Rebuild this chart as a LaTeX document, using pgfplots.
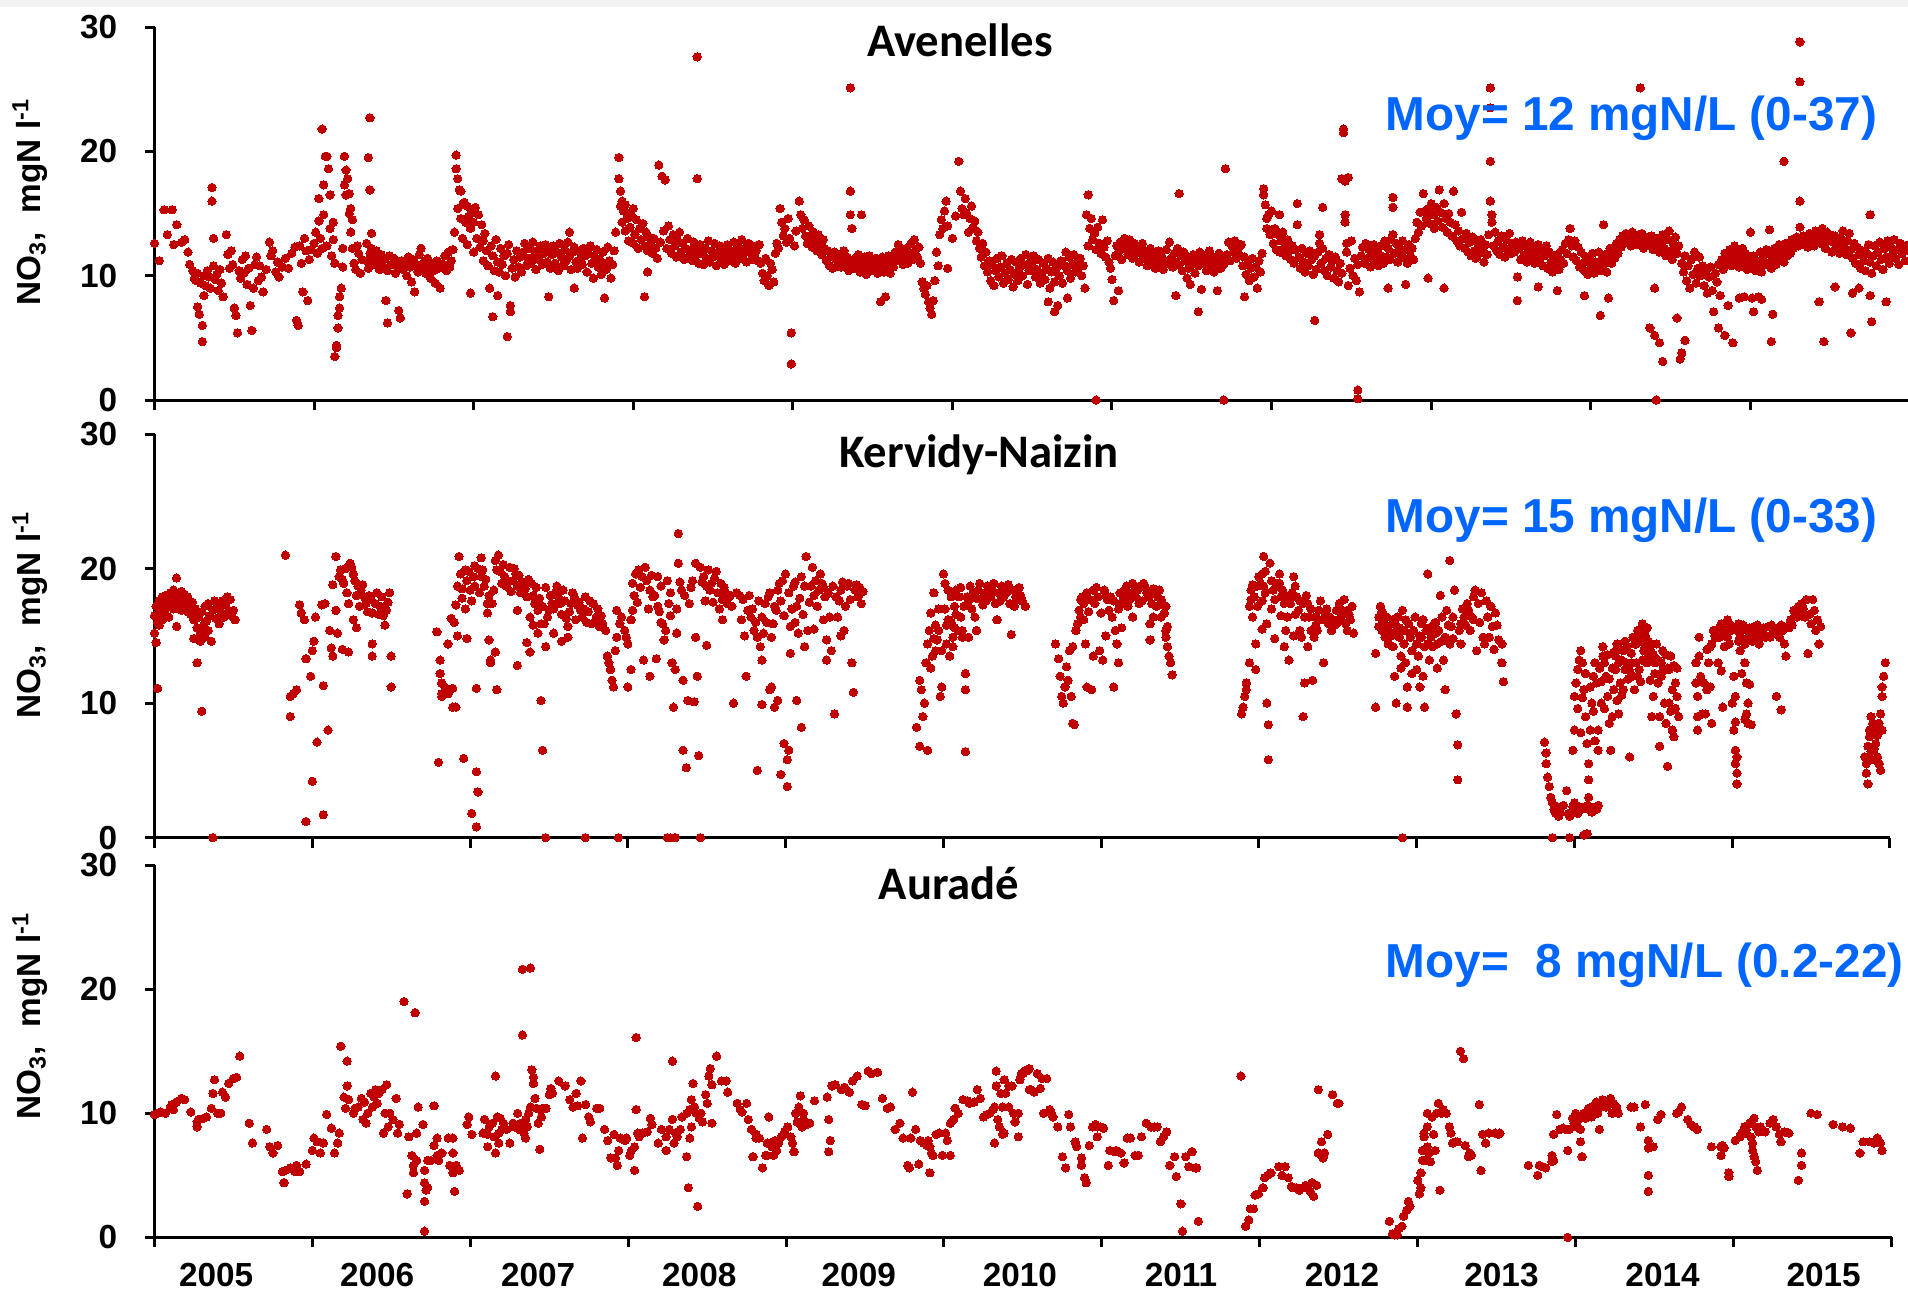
\documentclass[border=0pt]{standalone}
\usepackage{fontspec}
\setmainfont{Liberation Sans}
\newfontfamily\calibri{Carlito}
\usepackage{pgfplots}
\pgfplotsset{compat=1.18}
\definecolor{dotred}{RGB}{192,0,0}
\definecolor{moyblue}{RGB}{0,102,255}
\pgfplotsset{
  panel/.style={
    scale only axis,
    xmin=2005, xmax=2016, ymin=0, ymax=30,
    axis x line*=bottom, axis y line*=left,
    axis line style={line width=0.9pt, -},
    tick style={black, line width=0.9pt},
    tick align=outside,
    major tick length=3pt,
    ytick={0,10,20,30},
    xtick={2005,...,2016},
    xticklabels={},
    yticklabel style={font=\bfseries\fontsize{10}{12}\selectfont, inner sep=0pt, xshift=-8pt},
    /pgf/number format/assume math mode=true,
    clip=false,
  },
  dots/.style={only marks, mark=*, mark size=1.25pt, color=dotred,
    mark options={draw=dotred, fill=dotred, line width=0pt}},
}
\begin{document}
\begin{tikzpicture}
\useasboundingbox (0pt,0pt) rectangle (572.4pt,-388.2pt);
\fill[black!5] (0pt,0pt) rectangle (572.4pt,-2pt);
% ---------------- Panel 1 : Avenelles ----------------
\begin{axis}[panel, at={(46.35pt,-120pt)}, anchor=south west, width=526.65pt, height=111.9pt]
\addplot[dots] coordinates {
(2005.00,12.6)(2005.03,11.2)(2005.06,15.3)(2005.08,13.3)(2005.11,15.3)(2005.12,12.5)(2005.14,14.1)(2005.17,12.7)(2005.19,12.9)(2005.21,11.9)(2005.22,10.9)(2005.24,10.4)(2005.25,9.8)(2005.26,9.6)(2005.27,10.2)(2005.27,7.5)(2005.28,6.9)(2005.29,9.4)(2005.30,6.0)(2005.30,4.7)(2005.31,8.4)(2005.31,10.0)(2005.32,9.2)(2005.33,10.4)(2005.34,9.9)(2005.35,9.0)(2005.36,17.1)(2005.36,16.0)(2005.37,13.0)(2005.37,10.8)(2005.38,9.7)(2005.39,10.1)(2005.40,8.8)(2005.41,10.5)(2005.42,9.4)(2005.43,8.3)(2005.45,13.3)(2005.46,11.7)(2005.47,10.6)(2005.48,12.0)(2005.49,10.9)(2005.50,7.4)(2005.51,6.8)(2005.52,5.4)(2005.53,10.4)(2005.54,9.8)(2005.55,11.3)(2005.56,10.2)(2005.57,11.6)(2005.58,9.3)(2005.59,10.6)(2005.60,7.6)(2005.61,5.6)(2005.62,9.0)(2005.63,10.9)(2005.64,11.5)(2005.65,9.6)(2005.66,10.8)(2005.67,9.9)(2005.68,8.7)(2005.70,10.5)(2005.72,12.7)(2005.73,11.6)(2005.74,12.0)(2005.76,10.3)(2005.77,11.1)(2005.78,9.9)(2005.80,10.7)(2005.82,11.4)(2005.84,10.6)(2005.86,11.8)(2005.88,12.3)(2005.89,6.4)(2005.90,6.0)(2005.91,12.4)(2005.92,11.0)(2005.93,8.7)(2005.94,13.0)(2005.95,12.0)(2005.96,8.0)(2005.97,11.3)(2005.98,12.1)
(2006.00,12.6)(2006.01,13.5)(2006.02,11.8)(2006.03,14.4)(2006.03,16.2)(2006.04,13.0)(2006.05,12.2)(2006.06,17.3)(2006.06,14.9)(2006.05,21.8)(2006.07,19.6)(2006.08,19.6)(2006.08,12.4)(2006.09,18.6)(2006.10,16.5)(2006.10,13.8)(2006.11,11.6)(2006.12,14.3)(2006.12,12.9)(2006.13,11.0)(2006.13,3.5)(2006.14,4.2)(2006.14,4.4)(2006.15,5.8)(2006.15,6.8)(2006.16,7.4)(2006.16,8.3)(2006.17,9.0)(2006.18,10.7)(2006.18,12.2)(2006.19,19.6)(2006.19,17.3)(2006.20,16.5)(2006.20,18.5)(2006.21,17.8)(2006.22,15.0)(2006.22,16.6)(2006.23,13.5)(2006.23,15.4)(2006.24,12.2)(2006.24,14.5)(2006.25,11.0)(2006.26,10.5)(2006.27,12.4)(2006.28,11.8)(2006.29,10.2)(2006.30,11.3)(2006.35,22.7)(2006.34,19.5)(2006.35,16.9)(2006.36,13.4)(2006.33,12.6)(2006.33,11.2)(2006.34,10.6)(2006.35,11.8)(2006.36,12.2)(2006.37,10.9)(2006.38,11.5)(2006.39,12.0)(2006.40,11.1)(2006.41,10.5)(2006.42,11.7)(2006.43,10.8)(2006.44,11.3)(2006.45,8.0)(2006.46,6.2)(2006.46,10.4)(2006.47,11.6)(2006.48,10.9)(2006.50,11.4)(2006.51,10.2)(2006.52,10.8)(2006.53,7.2)(2006.54,6.6)(2006.55,11.2)(2006.56,10.5)(2006.57,11.0)(2006.58,10.0)(2006.59,11.5)(2006.60,10.7)(2006.61,9.5)(2006.62,11.3)(2006.63,8.7)(2006.64,10.9)(2006.65,10.3)(2006.66,11.7)(2006.67,12.2)(2006.68,10.6)(2006.69,11.1)(2006.70,10.2)(2006.71,11.4)(2006.72,10.8)(2006.73,9.8)(2006.74,11.0)(2006.75,10.4)(2006.76,9.4)(2006.77,11.2)(2006.78,10.6)(2006.79,9.0)(2006.81,10.9)(2006.82,11.6)(2006.83,10.4)(2006.84,11.9)(2006.85,10.7)
(2006.86,11.2)(2006.87,12.1)(2006.88,13.5)(2006.89,19.7)(2006.89,18.6)(2006.90,17.8)(2006.90,15.4)(2006.91,16.9)(2006.92,16.8)(2006.92,14.6)(2006.93,15.7)(2006.93,13.0)(2006.94,15.9)(2006.95,14.3)(2006.96,15.6)(2006.96,12.5)(2006.97,14.8)(2006.98,13.8)(2006.98,8.6)(2006.99,15.2)(2007.00,11.9)(2007.00,14.3)(2007.01,15.5)(2007.02,13.0)(2007.03,14.9)(2007.04,12.3)(2007.05,14.1)(2007.06,12.8)(2007.06,11.2)(2007.07,13.4)(2007.08,12.0)
(2007.09,10.8)(2007.10,9.0)(2007.11,12.4)(2007.12,6.7)(2007.12,11.6)(2007.13,10.4)(2007.14,12.9)(2007.15,8.4)(2007.15,11.1)(2007.16,10.3)(2007.17,12.2)(2007.18,10.9)(2007.19,11.6)(2007.20,10.0)(2007.21,5.1)(2007.21,11.8)(2007.22,12.5)(2007.23,7.6)(2007.23,7.1)(2007.24,10.6)(2007.25,11.3)(2007.26,9.9)(2007.27,12.0)(2007.28,10.7)(2007.29,11.5)(2007.30,10.3)
(2007.31,11.9)(2007.32,12.6)(2007.33,10.8)(2007.34,11.4)(2007.35,12.2)(2007.36,11.0)(2007.37,12.7)(2007.38,11.6)(2007.39,10.5)(2007.40,12.0)(2007.41,11.3)(2007.42,12.4)(2007.43,10.9)(2007.44,11.8)(2007.45,12.5)(2007.46,11.1)(2007.47,8.3)(2007.47,12.2)(2007.48,10.6)(2007.49,11.7)(2007.50,12.4)(2007.51,11.0)(2007.52,11.9)(2007.53,10.4)(2007.54,12.6)(2007.55,11.5)(2007.56,10.8)(2007.57,12.1)(2007.58,11.2)(2007.59,12.7)(2007.60,13.5)(2007.60,11.6)(2007.61,10.5)(2007.62,11.9)(2007.63,9.0)(2007.63,12.3)(2007.64,11.1)(2007.65,10.6)(2007.66,12.0)(2007.67,11.4)(2007.68,10.9)(2007.69,12.2)(2007.70,11.6)(2007.71,10.3)(2007.72,11.8)(2007.73,12.4)(2007.74,11.0)(2007.75,9.8)(2007.76,11.5)(2007.77,12.1)(2007.78,10.7)(2007.79,11.3)(2007.80,10.1)(2007.81,11.9)(2007.82,8.2)(2007.82,11.0)(2007.83,10.5)(2007.84,12.3)(2007.85,11.2)(2007.86,9.8)(2007.87,10.9)(2007.88,12.0)(2007.89,13.5)
(2007.91,19.5)(2007.91,17.8)(2007.92,16.8)(2007.92,15.6)(2007.93,14.3)(2007.93,16.0)(2007.94,15.2)(2007.95,13.6)(2007.95,15.7)(2007.96,14.6)(2007.97,12.8)(2007.97,15.0)(2007.98,13.9)(2007.99,14.8)(2008.00,12.6)(2008.00,15.4)(2008.01,13.3)(2008.02,14.5)(2008.03,12.2)(2008.04,13.8)(2008.05,12.9)(2008.06,14.2)(2008.07,8.3)(2008.07,12.4)(2008.08,13.5)(2008.09,10.3)(2008.09,12.0)(2008.10,13.1)(2008.11,12.5)(2008.12,11.8)(2008.13,13.0)(2008.14,12.2)(2008.15,11.4)
(2008.16,18.9)(2008.18,18.0)(2008.20,17.7)(2008.17,12.7)(2008.19,13.6)(2008.21,12.2)(2008.22,14.0)(2008.23,12.9)(2008.24,11.8)(2008.25,13.3)(2008.26,12.4)(2008.27,11.5)(2008.28,12.8)(2008.29,13.5)(2008.30,11.9)(2008.31,12.6)(2008.32,11.3)(2008.33,12.2)(2008.34,13.0)(2008.35,11.6)
(2008.36,12.1)(2008.37,11.2)(2008.38,12.7)(2008.39,11.6)(2008.40,27.6)(2008.40,17.8)(2008.40,12.3)(2008.41,11.0)(2008.42,12.5)(2008.43,11.8)(2008.44,10.9)(2008.45,12.2)(2008.46,11.4)(2008.47,12.8)(2008.48,11.1)(2008.49,12.0)(2008.50,11.5)(2008.51,12.6)(2008.52,10.8)(2008.53,11.9)(2008.54,12.4)(2008.55,11.3)(2008.56,12.1)(2008.57,10.9)(2008.58,11.7)(2008.59,12.5)(2008.60,11.2)(2008.61,12.0)(2008.62,11.5)(2008.63,12.7)(2008.64,11.0)(2008.65,11.8)(2008.66,12.3)(2008.67,11.4)(2008.68,12.9)(2008.69,11.7)(2008.70,12.2)(2008.71,11.1)(2008.72,12.6)(2008.73,11.9)(2008.74,11.3)(2008.75,12.4)(2008.76,11.6)(2008.77,12.0)(2008.78,11.2)(2008.79,12.5)(2008.80,11.0)(2008.81,10.2)(2008.82,9.6)(2008.83,11.4)(2008.84,10.0)(2008.85,9.2)(2008.86,11.0)(2008.87,10.5)(2008.88,9.5)(2008.89,11.8)(2008.90,12.6)(2008.91,12.2)(2008.92,15.4)(2008.93,14.3)(2008.94,13.2)(2008.95,13.8)(2008.96,12.7)(2008.97,14.6)(2008.98,13.0)(2008.99,5.4)(2008.99,2.9)
(2009.01,12.4)(2009.02,13.6)(2009.04,16.0)(2009.05,14.9)(2009.06,13.8)(2009.07,14.5)(2009.08,13.2)(2009.09,12.6)(2009.10,14.0)(2009.11,13.1)(2009.12,12.3)(2009.13,13.5)(2009.14,12.8)(2009.15,12.0)(2009.16,13.3)(2009.17,12.5)(2009.18,11.7)(2009.19,12.9)(2009.20,12.2)(2009.21,11.2)(2009.22,12.0)(2009.23,10.8)(2009.24,11.6)(2009.25,10.6)(2009.26,11.9)(2009.27,11.3)(2009.28,10.9)(2009.29,11.7)(2009.30,10.7)(2009.31,11.4)(2009.32,12.0)(2009.33,10.8)(2009.34,11.5)(2009.35,10.4)(2009.36,25.1)(2009.36,16.8)(2009.36,14.9)(2009.37,13.8)(2009.37,11.2)(2009.38,10.6)(2009.39,11.4)(2009.40,10.9)(2009.41,11.7)(2009.42,10.3)(2009.43,14.9)(2009.43,11.1)(2009.44,10.6)(2009.45,11.5)(2009.46,10.1)(2009.47,10.9)(2009.48,11.6)(2009.49,10.4)(2009.50,11.2)(2009.51,10.7)(2009.52,11.4)(2009.53,10.2)(2009.54,11.0)(2009.55,7.9)(2009.55,10.6)(2009.56,11.5)(2009.57,10.3)(2009.58,8.3)(2009.58,11.1)(2009.59,10.8)(2009.60,11.6)(2009.61,10.2)(2009.62,11.3)(2009.63,10.7)(2009.64,11.9)(2009.65,11.2)(2009.66,12.5)(2009.67,11.6)(2009.68,12.0)(2009.69,10.9)(2009.70,11.4)(2009.71,12.2)(2009.72,11.0)(2009.73,11.8)(2009.74,12.6)(2009.75,11.3)(2009.76,12.9)(2009.77,12.1)(2009.78,11.5)(2009.79,12.3)(2009.80,11.0)(2009.81,9.5)(2009.82,9.0)(2009.83,8.5)(2009.84,9.2)(2009.85,7.9)(2009.86,7.4)(2009.87,6.9)(2009.88,8.0)(2009.89,9.6)(2009.90,11.9)(2009.91,10.8)(2009.92,13.3)(2009.93,14.5)(2009.94,13.8)(2009.95,15.2)(2009.96,16.0)(2009.97,10.6)(2009.97,14.0)
(2010.00,13.0)(2010.02,14.8)(2010.04,19.2)(2010.05,16.8)(2010.06,15.4)(2010.07,14.9)(2010.08,16.2)(2010.09,15.0)(2010.10,13.5)(2010.11,14.6)(2010.12,15.6)(2010.13,13.9)(2010.14,14.4)(2010.15,12.8)(2010.16,13.5)(2010.17,12.2)(2010.18,11.5)(2010.19,12.6)(2010.20,10.8)(2010.21,11.9)(2010.22,10.3)(2010.23,11.2)(2010.24,9.6)(2010.25,10.9)(2010.26,9.2)(2010.27,10.4)(2010.28,11.4)(2010.29,9.9)(2010.30,10.7)(2010.31,11.6)(2010.32,9.4)(2010.33,10.2)(2010.34,11.0)(2010.35,9.7)(2010.36,10.5)(2010.37,11.3)(2010.38,9.1)(2010.39,10.1)(2010.40,11.1)(2010.41,9.6)(2010.42,10.6)(2010.43,11.4)(2010.44,10.0)(2010.45,10.9)(2010.46,11.7)(2010.47,9.3)(2010.48,10.4)(2010.49,11.2)
(2010.50,10.8)(2010.51,11.6)(2010.52,9.9)(2010.53,10.5)(2010.54,11.3)(2010.55,9.4)(2010.56,10.2)(2010.57,11.0)(2010.58,9.7)(2010.59,10.6)(2010.60,7.9)(2010.60,11.4)(2010.61,9.0)(2010.62,10.3)(2010.63,11.1)(2010.64,7.1)(2010.64,9.5)(2010.65,10.6)(2010.66,7.6)(2010.67,10.0)(2010.68,11.2)(2010.69,9.4)(2010.70,10.8)(2010.71,11.9)(2010.72,8.2)(2010.72,10.4)(2010.73,11.5)(2010.74,9.8)(2010.75,10.9)(2010.76,11.7)(2010.77,10.3)(2010.78,11.1)(2010.79,10.6)(2010.80,11.4)(2010.81,10.0)(2010.82,10.8)(2010.83,9.0)(2010.84,14.9)(2010.85,16.5)(2010.85,12.4)(2010.86,13.8)(2010.87,14.6)(2010.88,12.9)(2010.89,13.4)(2010.90,0.0)(2010.90,12.1)(2010.91,13.9)(2010.92,12.6)(2010.93,11.8)(2010.94,14.5)(2010.95,12.3)(2010.96,11.5)(2010.97,12.8)(2010.98,11.1)(2010.99,10.6)
(2011.00,9.7)(2011.01,8.0)(2011.02,11.6)(2011.03,12.4)(2011.04,8.8)(2011.04,11.9)(2011.05,12.7)(2011.06,11.3)(2011.07,12.2)(2011.08,13.0)(2011.09,12.5)(2011.10,11.7)(2011.11,12.9)(2011.12,12.1)(2011.13,11.4)(2011.14,12.6)(2011.15,11.8)(2011.16,12.3)(2011.17,11.1)(2011.18,11.9)(2011.19,12.6)(2011.20,11.4)(2011.21,12.0)(2011.22,10.8)(2011.23,11.5)(2011.24,12.2)(2011.25,10.9)(2011.26,11.7)(2011.27,10.6)(2011.28,11.3)(2011.29,12.0)(2011.30,10.8)(2011.31,11.6)(2011.32,10.5)(2011.33,11.2)(2011.34,12.1)(2011.35,11.0)(2011.36,12.7)(2011.37,11.4)(2011.38,10.7)(2011.39,11.8)(2011.40,8.4)(2011.40,11.1)(2011.41,12.2)(2011.42,16.6)(2011.42,10.9)(2011.43,11.6)(2011.44,10.4)(2011.45,11.9)(2011.46,11.2)(2011.47,9.8)(2011.48,10.6)(2011.49,9.3)(2011.49,11.5)(2011.50,10.9)(2011.51,11.7)(2011.52,10.2)(2011.53,11.3)(2011.54,7.1)(2011.54,10.8)(2011.55,11.9)(2011.56,8.9)(2011.57,11.0)(2011.58,11.6)(2011.59,10.4)(2011.60,11.2)(2011.61,12.0)(2011.62,10.7)(2011.63,11.5)(2011.64,10.3)(2011.65,11.1)(2011.66,8.8)(2011.67,11.8)(2011.68,10.6)(2011.69,11.3)(2011.70,0.0)(2011.70,10.9)(2011.71,18.6)(2011.72,11.7)(2011.73,12.7)(2011.74,11.2)(2011.75,12.4)(2011.76,11.9)(2011.77,12.8)(2011.78,11.4)(2011.79,12.2)(2011.80,11.6)(2011.81,12.5)(2011.82,10.8)(2011.83,8.3)(2011.83,11.5)(2011.84,10.1)(2011.85,11.0)(2011.86,9.6)(2011.87,10.6)(2011.88,11.4)(2011.89,9.9)(2011.90,10.7)(2011.91,9.0)(2011.92,11.2)(2011.93,10.3)(2011.94,11.8)(2011.95,17.0)(2011.95,16.5)(2011.96,15.7)(2011.97,14.6)(2011.97,13.8)(2011.98,14.9)(2011.99,13.3)(2012.00,15.2)
(2012.01,12.6)(2012.02,13.8)(2012.03,12.1)(2012.04,13.3)(2012.05,14.9)(2012.05,11.9)(2012.06,12.8)(2012.07,13.5)(2012.08,12.3)(2012.09,11.6)(2012.10,12.9)(2012.11,12.0)(2012.12,11.3)(2012.13,12.4)(2012.14,11.0)(2012.15,12.1)(2012.16,15.8)(2012.16,14.1)(2012.17,11.5)(2012.18,10.6)(2012.19,12.2)(2012.20,11.1)(2012.21,10.3)(2012.22,11.8)(2012.23,10.8)(2012.24,12.0)(2012.25,11.3)(2012.26,10.1)(2012.27,6.4)(2012.27,11.6)(2012.28,10.5)(2012.29,11.9)(2012.30,13.3)(2012.30,12.6)(2012.31,11.0)(2012.32,15.5)(2012.32,12.2)(2012.33,10.4)(2012.34,11.4)(2012.35,10.0)(2012.36,11.7)(2012.37,10.7)(2012.38,11.2)(2012.39,9.8)(2012.40,11.5)(2012.41,10.4)(2012.42,9.5)(2012.43,11.0)(2012.44,17.8)(2012.44,10.2)(2012.45,21.8)(2012.45,21.5)(2012.46,17.6)(2012.46,14.9)(2012.46,14.3)(2012.47,12.6)(2012.47,11.9)(2012.48,17.9)(2012.48,9.2)(2012.49,10.6)(2012.50,12.8)(2012.51,10.0)(2012.52,11.4)(2012.53,9.6)(2012.54,0.8)(2012.54,0.1)(2012.54,10.9)(2012.55,8.7)(2012.56,11.6)(2012.57,12.3)(2012.58,11.0)(2012.59,12.6)(2012.60,11.4)(2012.61,12.1)(2012.62,10.7)(2012.63,11.8)(2012.64,12.5)(2012.65,11.2)(2012.66,12.0)(2012.67,10.8)(2012.68,11.6)(2012.69,12.4)(2012.70,11.0)(2012.71,12.8)(2012.72,11.5)(2012.73,9.0)(2012.73,12.2)(2012.74,11.3)(2012.75,12.9)(2012.76,16.3)(2012.76,15.5)(2012.76,13.3)(2012.77,11.8)(2012.78,12.6)(2012.79,11.1)(2012.80,12.3)(2012.81,11.7)(2012.82,12.8)(2012.83,11.4)(2012.84,9.3)(2012.84,12.1)(2012.85,11.0)(2012.86,12.5)(2012.87,11.6)(2012.88,12.2)(2012.89,11.3)(2012.90,13.0)
(2012.91,14.3)(2012.92,13.5)(2012.93,15.1)(2012.94,14.0)(2012.95,16.6)(2012.96,15.2)(2012.97,14.6)(2012.98,15.4)(2012.98,9.8)(2012.99,14.2)(2013.00,15.8)(2013.01,14.9)(2013.02,13.8)(2013.03,15.5)(2013.04,14.4)(2013.05,16.9)(2013.06,15.1)(2013.07,13.9)(2013.08,15.8)(2013.08,9.0)(2013.09,14.6)(2013.10,13.5)(2013.11,15.0)(2013.12,14.3)(2013.13,13.2)(2013.14,16.8)(2013.15,14.1)(2013.16,12.8)(2013.17,13.6)(2013.18,12.4)(2013.19,15.1)(2013.20,13.0)(2013.21,12.2)(2013.22,13.4)(2013.23,11.9)(2013.24,12.7)(2013.25,11.6)(2013.26,13.1)(2013.27,12.0)(2013.28,11.4)(2013.29,12.6)(2013.30,11.8)(2013.31,12.9)(2013.32,12.2)(2013.33,11.1)(2013.34,12.5)(2013.35,11.7)(2013.36,13.3)(2013.37,25.1)(2013.37,23.5)(2013.37,19.2)(2013.37,16.0)(2013.38,14.9)(2013.38,14.3)(2013.39,12.4)(2013.40,13.5)(2013.41,12.0)(2013.42,12.8)(2013.43,11.7)(2013.44,13.2)(2013.45,12.3)(2013.46,11.5)(2013.47,12.9)(2013.48,12.1)(2013.49,13.4)(2013.50,11.8)(2013.51,12.6)(2013.52,11.9)(2013.53,12.7)(2013.54,9.9)(2013.54,8.0)(2013.55,12.2)(2013.56,11.3)(2013.57,12.8)(2013.58,11.6)(2013.59,12.4)(2013.60,11.1)(2013.61,12.0)(2013.62,12.7)(2013.63,11.4)(2013.64,12.3)(2013.65,11.0)(2013.66,11.8)(2013.67,9.1)(2013.67,12.5)(2013.68,11.2)(2013.69,12.1)(2013.70,10.8)(2013.71,11.6)(2013.72,12.4)(2013.73,10.6)(2013.74,11.9)(2013.75,11.1)(2013.76,10.3)(2013.77,11.5)(2013.78,10.9)(2013.79,8.8)(2013.79,11.7)(2013.80,10.5)(2013.81,11.3)(2013.82,12.1)(2013.83,11.0)(2013.84,12.6)(2013.85,11.8)(2013.86,12.9)(2013.87,13.8)(2013.88,12.4)(2013.89,11.5)(2013.90,12.8)(2013.91,11.2)(2013.92,12.3)(2013.93,10.7)(2013.94,11.9)(2013.95,11.0)(2013.96,8.4)(2013.96,10.4)(2013.97,11.5)(2013.98,10.1)(2013.99,11.2)
(2014.00,10.6)(2014.01,11.8)(2014.02,10.2)(2014.03,11.1)(2014.04,10.7)(2014.05,11.9)(2014.06,6.8)(2014.06,10.4)(2014.07,11.3)(2014.08,14.1)(2014.08,10.9)(2014.09,11.7)(2014.10,10.3)(2014.11,8.2)(2014.11,11.5)(2014.12,12.2)(2014.13,11.0)(2014.14,12.0)(2014.15,11.4)(2014.16,12.6)(2014.17,11.8)(2014.18,12.9)(2014.19,12.3)(2014.20,13.2)(2014.21,12.6)(2014.22,13.4)(2014.23,12.8)(2014.24,13.1)(2014.25,12.4)(2014.26,13.5)(2014.27,12.9)(2014.28,13.2)(2014.29,12.5)(2014.30,13.3)(2014.31,25.1)(2014.31,12.7)(2014.32,13.4)(2014.33,12.2)(2014.34,13.0)(2014.35,12.4)(2014.36,13.1)(2014.37,5.8)(2014.37,12.6)(2014.38,13.2)(2014.39,12.1)(2014.40,9.0)(2014.40,5.2)(2014.41,0.0)(2014.41,13.0)(2014.42,12.4)(2014.43,4.6)(2014.43,11.9)(2014.44,12.8)(2014.45,3.1)(2014.45,13.3)(2014.46,12.2)(2014.47,11.6)(2014.48,12.9)(2014.49,13.6)(2014.50,12.0)(2014.51,11.3)(2014.52,12.5)(2014.53,13.1)(2014.54,6.6)(2014.54,11.8)(2014.55,12.4)(2014.56,3.3)(2014.57,3.8)(2014.57,11.0)(2014.58,10.3)(2014.59,4.8)(2014.59,11.6)(2014.60,9.6)(2014.61,10.8)(2014.62,9.0)(2014.63,11.3)(2014.64,10.1)(2014.65,11.9)(2014.66,9.4)(2014.67,10.6)(2014.68,11.5)(2014.69,10.0)(2014.70,10.8)(2014.71,9.2)(2014.72,10.4)(2014.73,8.6)(2014.74,9.9)(2014.75,10.7)(2014.76,8.8)(2014.77,7.1)(2014.78,10.2)(2014.79,9.5)(2014.80,5.8)(2014.80,10.9)(2014.81,8.4)(2014.82,11.3)(2014.83,10.5)(2014.84,5.2)(2014.84,11.8)(2014.85,10.9)(2014.86,7.6)(2014.86,11.4)(2014.87,12.1)(2014.88,10.8)(2014.89,4.6)(2014.89,11.6)(2014.90,12.4)(2014.91,11.1)(2014.92,11.9)(2014.93,8.2)(2014.93,10.7)(2014.94,11.5)(2014.95,12.2)(2014.96,8.3)(2014.96,11.0)(2014.97,11.8)(2014.98,10.5)(2014.99,11.3)
(2015.00,13.5)(2015.00,10.8)(2015.01,8.2)(2015.02,7.1)(2015.02,11.6)(2015.03,10.4)(2015.04,11.2)(2015.05,8.3)(2015.05,10.7)(2015.06,11.9)(2015.07,8.1)(2015.07,10.3)(2015.08,11.5)(2015.09,10.9)(2015.10,12.1)(2015.11,11.0)(2015.12,13.7)(2015.12,11.8)(2015.13,4.7)(2015.13,10.6)(2015.14,6.9)(2015.14,11.4)(2015.15,12.2)(2015.16,10.9)(2015.17,11.7)(2015.18,12.5)(2015.19,11.3)(2015.20,12.0)(2015.21,19.2)(2015.21,11.1)(2015.22,12.6)(2015.23,11.6)(2015.24,12.3)(2015.25,11.8)(2015.26,12.9)(2015.27,12.2)(2015.28,12.7)(2015.29,13.1)(2015.30,12.4)(2015.31,28.8)(2015.31,25.6)(2015.31,16.0)(2015.31,13.9)(2015.32,12.8)(2015.33,13.2)(2015.34,12.5)(2015.35,13.0)(2015.36,12.3)(2015.37,13.4)(2015.38,12.7)(2015.39,13.1)(2015.40,12.4)(2015.41,13.6)(2015.42,12.9)(2015.43,7.9)(2015.43,13.3)(2015.44,12.6)(2015.45,13.8)(2015.46,4.7)(2015.46,13.0)(2015.47,12.2)(2015.48,13.5)(2015.49,12.8)(2015.50,13.3)(2015.51,11.9)(2015.52,12.7)(2015.53,9.1)(2015.53,13.2)(2015.54,12.4)(2015.55,13.0)(2015.56,11.8)(2015.57,12.9)(2015.58,13.6)(2015.59,12.3)(2015.60,11.7)(2015.61,12.8)(2015.62,13.4)(2015.63,5.4)(2015.63,12.1)(2015.64,8.6)(2015.64,11.4)(2015.65,12.6)(2015.66,11.0)(2015.67,12.3)(2015.68,9.0)(2015.68,11.7)(2015.69,10.6)(2015.70,12.0)(2015.71,11.2)(2015.72,10.4)(2015.73,11.8)(2015.74,12.5)(2015.75,14.9)(2015.75,8.4)(2015.75,11.1)(2015.76,6.3)(2015.76,10.2)(2015.77,11.6)(2015.78,12.4)(2015.79,10.8)(2015.80,11.9)(2015.81,12.7)(2015.82,11.3)(2015.83,10.5)(2015.84,12.2)(2015.85,7.9)(2015.85,11.5)(2015.86,12.8)(2015.87,11.0)(2015.88,12.3)(2015.89,11.7)(2015.90,12.9)(2015.91,11.4)(2015.92,12.1)(2015.93,10.9)(2015.94,12.6)(2015.95,11.8)(2015.96,12.4)(2015.97,11.2)(2015.98,12.0)(2015.99,12.5)
};
\end{axis}
% ---------------- Panel 2 : Kervidy-Naizin ----------------
\begin{axis}[panel, at={(46.35pt,-251.3pt)}, anchor=south west, width=520.65pt, height=121.1pt]
\addplot[dots] coordinates {
(2005.00,16.5)(2005.00,15.2)(2005.01,14.5)(2005.01,17.2)(2005.02,16.0)(2005.02,11.1)(2005.03,17.6)(2005.03,15.8)(2005.04,16.8)(2005.05,17.9)(2005.05,16.2)(2005.06,17.4)(2005.07,16.6)(2005.07,18.0)(2005.08,17.1)(2005.09,17.8)(2005.09,16.4)(2005.10,18.2)(2005.11,17.5)(2005.12,17.0)(2005.12,18.4)(2005.13,17.7)(2005.14,19.3)(2005.14,15.7)(2005.15,18.0)(2005.16,17.3)(2005.17,18.3)(2005.17,16.9)(2005.18,17.8)(2005.19,18.1)(2005.20,17.4)(2005.21,16.8)(2005.21,17.9)(2005.22,17.2)(2005.23,16.6)(2005.24,17.5)(2005.25,16.2)(2005.25,14.8)(2005.26,17.0)(2005.27,15.6)(2005.27,13.0)(2005.28,16.4)(2005.29,15.2)(2005.29,14.6)(2005.30,16.8)(2005.30,9.4)(2005.31,15.8)(2005.32,14.9)(2005.32,17.2)(2005.33,16.1)(2005.34,17.4)(2005.34,15.4)(2005.35,16.5)(2005.36,14.6)(2005.37,0.0)(2005.37,16.9)(2005.38,17.6)(2005.39,16.3)(2005.40,17.2)(2005.41,15.9)(2005.42,16.8)(2005.43,17.6)(2005.44,16.4)(2005.45,17.3)(2005.46,17.9)(2005.47,16.9)(2005.48,17.7)(2005.49,16.5)(2005.50,16.9)(2005.51,16.2)
(2005.83,21.0)(2005.86,10.5)(2005.88,10.7)(2005.86,9.0)(2005.90,11.0)(2005.92,17.3)(2005.93,16.7)(2005.95,16.2)(2005.96,13.3)(2005.99,12.0)(2006.00,4.2)(2005.96,1.2)(2006.03,7.1)(2006.01,14.6)(2006.00,13.9)(2006.02,16.4)(2006.07,11.3)(2006.07,1.7)(2006.10,8.0)(2006.06,17.3)(2006.08,17.4)(2006.11,15.4)(2006.12,14.1)(2006.13,13.5)(2006.15,16.9)(2006.13,18.8)(2006.15,20.9)(2006.17,19.4)(2006.18,19.9)(2006.20,18.9)(2006.22,18.2)(2006.23,17.4)(2006.23,13.8)(2006.24,20.4)(2006.25,20.1)(2006.27,19.1)(2006.29,18.7)(2006.31,18.4)(2006.33,17.9)(2006.34,17.4)(2006.36,18.0)(2006.38,16.7)(2006.38,14.4)(2006.38,13.5)(2006.40,17.4)(2006.41,18.2)(2006.43,17.2)(2006.45,16.5)(2006.47,16.9)(2006.49,18.2)(2006.50,13.5)(2006.50,11.2)(2006.19,19.2)(2006.21,20.0)(2006.26,19.6)(2006.28,18.0)(2006.30,17.2)(2006.32,18.8)(2006.35,16.8)(2006.37,17.8)(2006.42,16.6)(2006.44,17.9)(2006.46,15.8)(2006.48,17.5)(2006.16,15.2)(2006.19,14.0)(2006.26,16.2)(2006.28,15.6)
(2006.79,15.3)(2006.80,5.6)(2006.81,13.2)(2006.81,12.2)(2006.82,11.5)(2006.82,10.7)(2006.82,10.5)(2006.84,11.2)(2006.86,10.7)(2006.86,14.4)(2006.88,16.3)(2006.89,11.1)(2006.89,9.7)(2006.91,9.7)(2006.91,17.3)(2006.92,18.7)(2006.93,20.9)(2006.94,19.6)(2006.95,17.8)(2006.96,5.9)(2006.97,19.9)(2006.98,19.1)(2006.98,14.8)(2007.00,18.4)(2007.02,19.4)(2007.03,18.7)(2007.04,11.1)(2007.04,4.9)(2007.05,3.4)(2007.01,1.8)(2007.04,0.8)(2007.05,20.0)(2007.07,20.8)(2007.07,19.4)(2007.09,18.7)(2007.11,17.4)(2007.11,16.7)(2007.12,14.7)(2007.13,13.0)(2007.13,13.2)(2007.14,17.4)(2007.15,18.4)(2007.16,20.6)(2007.17,19.9)(2007.18,21.0)(2007.16,13.8)(2007.17,11.0)(2007.20,18.9)(2007.22,19.4)(2007.23,18.7)(2007.25,20.1)(2007.27,19.1)(2007.29,19.6)(2007.30,18.7)(2007.30,16.9)(2007.30,12.8)(2007.32,18.2)(2007.34,18.7)(2007.36,17.9)(2007.38,16.4)(2007.38,13.8)(2007.39,18.9)(2007.41,17.4)(2007.43,16.9)(2007.43,15.2)(2007.45,15.9)(2007.45,10.2)(2007.46,6.5)(2007.47,15.9)(2007.48,18.6)(2007.49,16.4)(2007.50,16.9)(2007.52,17.4)(2007.54,18.2)(2007.55,18.7)(2007.57,17.4)(2007.59,18.4)(2007.61,16.3)(2007.62,15.7)(2007.62,14.9)(2007.64,17.4)(2007.66,17.9)(2007.68,17.3)(2007.70,16.9)(2007.71,16.4)(2007.73,17.9)(2007.75,16.8)(2007.77,15.9)(2007.78,17.4)(2007.80,16.4)(2007.82,15.7)(2007.84,15.9)(2007.86,15.4)(2007.87,13.5)(2007.88,13.0)(2007.89,12.5)(2007.90,11.7)(2007.91,11.2)(2007.92,13.9)(2007.93,14.9)(2007.93,16.9)(2007.95,15.9)(2007.96,16.4)(2007.98,15.4)(2007.99,14.9)(2008.00,14.4)(2008.00,11.2)(2008.02,12.5)(2008.02,16.2)(2008.03,16.9)(2008.03,18.9)(2008.05,19.6)(2008.07,19.9)(2008.09,19.4)(2008.10,13.2)(2008.11,20.1)(2008.12,19.1)(2008.14,18.4)(2008.14,12.0)(2008.16,17.9)(2008.18,13.3)(2008.19,17.2)(2008.19,19.4)(2008.21,18.7)(2008.22,15.9)(2008.23,14.7)(2008.24,15.4)(2008.25,19.1)(2008.27,18.2)(2008.28,13.0)(2008.29,9.7)(2008.30,12.5)(2008.31,15.2)(2008.32,22.6)(2008.32,20.4)(2008.34,18.4)(2008.35,6.5)(2008.35,11.7)(2008.37,5.2)(2008.38,10.2)(2008.39,17.4)(2008.41,19.1)(2008.42,10.1)(2008.43,20.4)(2008.43,14.9)(2008.44,12.0)(2008.45,6.1)(2008.46,20.1)(2008.48,19.4)(2008.50,18.7)(2008.50,14.3)(2008.51,19.9)(2008.53,18.9)(2008.55,19.3)(2008.57,18.2)(2008.59,18.9)(2008.60,17.7)(2008.60,16.2)(2008.62,18.2)(2008.64,17.9)(2008.66,17.2)(2008.67,10.0)
(2007.19,19.8)(2007.21,20.3)(2007.24,19.0)(2007.26,18.3)(2007.28,20.0)(2007.31,19.5)(2007.33,19.0)(2007.35,18.5)(2007.37,19.2)(2007.40,18.0)(2007.42,18.6)(2007.44,17.8)(2007.46,17.2)(2007.51,18.0)(2007.53,17.0)(2007.56,17.9)(2007.58,16.6)(2007.60,17.6)(2007.63,16.8)(2007.65,18.2)(2007.67,16.2)(2007.69,17.5)(2007.72,17.0)(2007.74,16.0)(2007.76,17.6)(2007.79,16.0)(2007.81,17.0)(2007.83,16.5)(2006.99,19.8)(2007.01,17.6)(2007.03,20.2)(2007.06,18.2)(2007.08,19.9)(2007.10,19.2)(2007.12,18.0)(2006.95,18.5)(2006.97,17.0)(2006.90,16.0)(2006.92,15.0)(2008.04,18.0)(2008.06,17.5)(2008.08,18.6)(2008.13,17.0)(2008.15,19.5)(2008.17,18.0)(2008.20,16.8)(2008.26,17.4)(2008.33,19.0)(2008.36,18.0)(2008.40,18.6)(2008.47,19.0)(2008.49,17.6)(2008.52,18.4)(2008.54,17.5)(2008.56,19.8)(2008.58,17.0)(2008.61,18.6)(2008.63,17.4)(2008.65,18.0)(2008.21,16.0)(2008.27,16.5)(2008.31,17.0)(2007.36,14.5)(2007.40,15.8)(2007.48,14.2)(2007.53,15.2)(2007.58,14.6)
(2007.48,0.0)(2007.73,0.0)(2007.94,0.0)(2008.25,0.0)(2008.27,0.0)(2008.30,0.0)(2008.46,0.0)(2012.91,0.0)
(2008.69,18.2)(2008.71,18.0)(2008.73,17.7)(2008.75,12.0)(2008.76,16.9)(2008.78,16.4)(2008.80,15.4)(2008.82,14.9)(2008.82,5.0)(2008.84,14.2)(2008.85,13.2)(2008.85,9.9)(2008.85,16.4)(2008.87,17.4)(2008.89,17.9)(2008.90,11.0)(2008.91,11.2)(2008.91,14.9)(2008.92,15.9)(2008.93,9.7)(2008.94,16.9)(2008.95,10.2)(2008.96,18.9)(2008.97,4.7)(2008.98,19.1)(2008.99,7.0)(2009.00,19.6)(2009.01,5.8)(2009.01,3.8)(2009.02,6.5)(2009.03,15.7)(2009.03,13.7)(2009.05,18.7)(2009.07,17.2)(2009.07,10.2)(2009.08,15.2)(2009.10,8.2)(2009.10,19.4)(2009.12,18.7)(2009.13,20.9)(2009.14,15.4)(2009.16,18.7)(2009.17,20.1)(2009.19,19.1)(2009.21,18.4)(2009.23,18.9)(2009.25,17.9)(2009.26,14.7)(2009.26,13.2)(2009.28,16.4)(2009.29,13.9)(2009.30,18.7)(2009.31,9.2)(2009.32,17.9)(2009.33,16.4)(2009.35,18.4)(2009.37,15.4)(2009.39,18.7)(2009.41,17.7)(2009.42,13.0)(2009.43,10.8)(2009.44,18.4)(2009.46,17.9)(2009.48,17.4)(2009.49,18.3)
(2008.72,16.2)(2008.74,15.0)(2008.77,18.0)(2008.79,17.0)(2008.81,16.0)(2008.83,17.6)(2008.86,15.2)(2008.88,16.0)(2008.90,18.2)(2008.93,17.2)(2008.95,18.4)(2008.97,17.6)(2008.99,16.5)(2009.02,18.2)(2009.04,17.0)(2009.06,19.0)(2009.09,17.8)(2009.11,16.6)(2009.15,17.5)(2009.18,18.0)(2009.20,17.2)(2009.22,19.6)(2009.24,18.6)(2009.27,18.2)(2009.34,17.6)(2009.36,19.0)(2009.38,17.2)(2009.40,18.9)(2009.45,18.8)(2009.47,18.6)(2009.12,14.2)(2009.18,15.5)(2009.24,16.2)(2009.35,15.0)(2009.06,16.0)
(2009.83,8.2)(2009.85,6.8)(2009.87,9.0)(2009.85,11.7)(2009.86,11.0)(2009.88,10.0)(2009.89,13.0)(2009.90,6.5)(2009.90,14.4)(2009.91,15.4)(2009.92,16.7)(2009.93,13.5)(2009.94,18.2)(2009.95,13.9)(2009.96,14.7)(2009.97,15.4)(2009.98,10.5)(2009.99,11.2)(2009.99,13.9)(2010.00,19.6)(2010.01,18.9)(2010.02,14.4)(2010.03,18.4)(2010.04,13.5)(2010.05,17.9)(2010.06,14.9)(2010.06,14.2)(2010.07,17.2)(2010.08,18.4)(2010.09,15.4)(2010.10,17.9)(2010.11,16.4)(2010.12,15.4)(2010.12,14.9)(2010.14,12.2)(2010.14,11.0)(2010.14,6.4)(2010.15,17.9)(2010.16,14.9)(2010.17,18.7)(2010.19,18.2)(2010.20,16.4)(2010.21,15.4)(2010.22,18.4)(2010.24,17.7)(2010.26,18.2)(2010.28,18.7)(2010.30,17.9)(2010.31,18.4)(2010.33,17.4)(2010.34,16.2)(2010.35,18.2)(2010.37,18.7)(2010.38,17.9)(2010.40,18.2)(2010.42,17.4)(2010.43,15.1)(2010.44,18.4)(2010.46,17.9)(2010.47,17.7)(2010.49,18.0)(2010.50,17.6)(2010.52,17.2)
(2010.01,17.0)(2010.03,16.2)(2010.05,16.0)(2010.08,16.6)(2010.11,18.6)(2010.13,17.2)(2010.16,17.6)(2010.18,17.0)(2010.21,17.8)(2010.23,18.9)(2010.25,17.3)(2010.27,17.6)(2010.29,18.3)(2010.32,18.9)(2010.36,17.6)(2010.39,18.5)(2010.41,18.8)(2010.45,17.2)(2010.48,18.6)(2009.95,15.8)(2009.97,17.0)(2009.92,12.6)(2009.94,14.8)(2010.02,15.8)(2010.07,15.6)
(2010.71,14.4)(2010.73,13.3)(2010.74,12.0)(2010.75,10.5)(2010.76,10.0)(2010.77,11.2)(2010.78,12.7)(2010.79,11.7)(2010.80,13.9)(2010.81,10.5)(2010.82,8.5)(2010.83,8.4)(2010.82,14.2)(2010.84,15.4)(2010.85,15.9)(2010.86,16.9)(2010.87,17.7)(2010.87,16.4)(2010.88,17.9)(2010.89,17.4)(2010.90,14.4)(2010.91,11.2)(2010.91,18.2)(2010.93,17.7)(2010.94,11.0)(2010.95,13.5)(2010.95,18.4)(2010.96,17.4)(2010.98,17.9)(2010.99,13.9)(2011.00,16.7)(2011.01,13.2)(2011.02,18.4)(2011.04,17.7)(2011.05,16.9)(2011.06,17.9)(2011.07,16.4)(2011.08,11.2)(2011.09,15.4)(2011.10,14.4)(2011.11,13.0)(2011.12,18.2)(2011.13,17.4)(2011.14,17.9)(2011.16,18.7)(2011.18,17.7)(2011.19,18.2)(2011.20,18.9)(2011.22,17.9)(2011.23,18.4)(2011.24,17.4)(2011.25,18.7)(2011.27,18.9)(2011.29,18.2)(2011.30,17.9)(2011.31,14.7)(2011.31,15.9)(2011.32,17.4)(2011.33,16.4)(2011.34,18.2)(2011.36,17.9)(2011.38,17.7)(2011.38,16.4)(2011.40,16.7)(2011.41,15.4)(2011.41,14.9)(2011.42,14.2)(2011.43,13.5)(2011.44,13.0)(2011.45,12.1)(2011.42,15.7)(2011.41,17.2)
(2010.92,16.8)(2010.97,18.6)(2011.03,18.0)(2011.08,17.6)(2011.11,17.0)(2011.15,18.4)(2011.17,17.2)(2011.21,18.3)(2011.26,17.6)(2011.28,18.6)(2011.33,18.5)(2011.35,17.2)(2011.37,18.4)(2011.39,17.3)(2010.89,16.2)(2011.03,15.0)(2011.13,15.6)(2011.20,16.4)
(2011.89,9.2)(2011.90,9.7)(2011.91,10.5)(2011.92,11.0)(2011.92,11.5)(2011.94,13.0)(2011.94,17.2)(2011.95,17.7)(2011.95,18.4)(2011.96,16.4)(2011.97,17.9)(2011.98,14.4)(2011.98,12.5)(2011.99,18.7)(2012.00,19.4)(2012.01,18.9)(2012.02,19.6)(2012.03,20.9)(2012.03,18.7)(2012.04,18.2)(2012.05,15.9)(2012.05,10.0)(2012.06,8.4)(2012.06,5.8)(2012.07,20.4)(2012.08,19.1)(2012.09,18.4)(2012.10,17.7)(2012.12,18.7)(2012.13,19.6)(2012.13,18.9)(2012.14,17.9)(2012.15,18.4)(2012.16,17.4)(2012.17,15.4)(2012.18,16.4)(2012.19,13.2)(2012.20,17.4)(2012.21,18.2)(2012.22,19.4)(2012.23,18.7)(2012.24,17.9)(2012.25,16.9)(2012.26,15.4)(2012.27,14.9)(2012.28,9.0)(2012.28,17.4)(2012.29,16.4)(2012.29,11.5)(2012.31,14.2)(2012.31,17.4)(2012.32,16.4)(2012.33,15.4)(2012.34,11.7)(2012.35,14.9)(2012.36,16.4)(2012.37,15.4)(2012.38,16.9)(2012.40,16.2)(2012.41,13.0)(2012.42,16.7)(2012.44,15.9)(2012.45,16.4)(2012.46,15.4)(2012.47,16.2)(2012.49,16.9)(2012.51,17.4)(2012.52,16.4)(2012.53,16.9)(2012.54,17.7)(2012.55,15.9)(2012.56,15.4)(2012.56,16.9)(2012.58,16.2)(2012.60,15.2)
(2011.96,18.8)(2011.99,17.2)(2012.02,17.6)(2012.04,19.8)(2012.08,17.0)(2012.11,18.9)(2012.14,16.5)(2012.17,18.0)(2012.19,17.8)(2012.23,16.6)(2012.26,17.6)(2012.30,18.0)(2012.33,17.0)(2012.36,15.8)(2012.39,17.6)(2012.43,17.0)(2012.48,15.8)(2012.50,16.0)(2012.57,16.6)(2012.59,17.2)(2012.02,15.5)(2012.10,14.8)(2012.16,14.2)(2012.22,15.0)
(2012.74,13.7)(2012.74,9.7)(2012.76,15.7)(2012.76,16.4)(2012.77,17.2)(2012.78,15.4)(2012.79,15.9)(2012.80,14.9)(2012.81,16.4)(2012.82,14.4)(2012.82,15.7)(2012.83,15.2)(2012.85,16.2)(2012.85,14.2)(2012.86,12.0)(2012.87,10.0)(2012.87,15.4)(2012.88,16.4)(2012.89,14.9)(2012.90,13.5)(2012.91,16.9)(2012.92,15.4)(2012.92,14.4)(2012.93,13.0)(2012.94,9.7)(2012.94,11.2)(2012.95,15.9)(2012.96,14.9)(2012.97,13.9)(2012.98,15.4)(2012.99,16.4)(2013.00,14.4)(2013.00,12.5)(2013.01,13.5)(2013.03,14.9)(2013.03,15.9)(2013.04,12.0)(2013.05,9.7)(2013.05,14.2)(2013.06,15.4)(2013.07,14.4)(2013.07,19.6)(2013.08,13.2)(2013.09,14.9)(2013.10,15.4)(2013.10,14.2)(2013.11,15.9)(2013.12,15.2)(2013.13,14.4)(2013.14,15.4)(2013.15,18.0)(2013.16,16.4)(2013.17,13.2)(2013.18,11.0)(2013.18,14.9)(2013.19,16.9)(2013.21,14.4)(2013.21,20.6)(2013.22,15.7)(2013.23,16.4)(2013.24,18.4)(2013.25,9.2)(2013.26,6.9)(2013.26,4.3)(2013.27,15.4)(2013.28,14.4)(2013.28,15.9)(2013.30,16.4)(2013.32,17.4)(2013.33,16.9)(2013.34,15.4)(2013.35,16.4)(2013.36,17.9)(2013.37,18.4)(2013.38,13.9)(2013.39,17.4)(2013.41,18.2)(2013.42,14.9)(2013.43,14.4)(2013.45,16.4)(2013.46,14.9)(2013.48,15.7)(2013.50,16.7)(2013.52,14.7)(2013.54,13.0)(2013.54,14.4)(2013.55,11.6)
(2012.78,16.8)(2012.80,15.8)(2012.84,15.0)(2012.86,16.0)(2012.89,15.6)(2012.93,16.2)(2012.96,15.2)(2013.02,15.0)(2013.04,16.2)(2013.08,15.6)(2013.12,16.0)(2013.16,14.6)(2013.20,15.8)(2013.23,14.8)(2013.29,17.0)(2013.31,15.8)(2013.36,16.2)(2013.40,16.0)(2013.44,17.6)(2013.47,17.2)(2013.49,14.0)(2013.51,15.8)(2012.90,12.6)(2012.97,12.2)(2013.02,11.2)(2013.13,12.6)
(2013.81,7.1)(2013.82,6.3)(2013.82,5.5)(2013.83,4.5)(2013.84,3.8)(2013.85,3.0)(2013.86,2.6)(2013.87,2.1)(2013.88,1.8)(2013.89,2.3)(2013.90,1.6)(2013.91,1.9)(2013.93,2.4)(2013.95,3.5)(2013.96,1.8)(2013.97,1.6)(2013.99,2.3)(2014.00,2.1)(2014.00,2.6)(2014.02,1.8)(2014.03,2.3)(2014.04,2.1)(2014.06,2.2)(2014.08,2.4)(2014.09,2.1)(2014.09,3.0)(2014.10,2.3)(2014.11,1.9)(2014.13,2.2)(2014.14,2.1)(2014.15,2.4)(2013.86,0.0)(2013.97,0.0)(2014.06,0.2)(2014.08,0.3)
(2013.99,6.5)(2014.00,8.0)(2014.00,10.5)(2014.01,11.5)(2014.02,12.5)(2014.03,13.2)(2014.04,13.9)(2014.05,13.0)(2014.06,11.0)(2014.07,9.0)(2014.08,7.0)(2014.09,5.5)(2014.09,4.3)(2014.10,8.0)(2014.11,10.0)(2014.12,12.0)(2014.13,13.0)(2014.14,11.5)(2014.15,8.0)(2014.15,6.5)(2014.17,10.0)(2014.18,13.5)(2014.18,14.2)(2014.19,13.0)(2014.20,12.0)(2014.21,10.5)(2014.22,8.5)(2014.23,6.5)(2014.24,9.0)(2014.25,11.0)(2014.26,12.5)(2014.26,13.5)(2014.27,14.4)(2014.28,13.0)(2014.29,11.5)(2014.30,13.2)(2014.31,13.9)(2014.32,12.5)(2014.33,14.2)(2014.33,13.0)(2014.35,6.0)(2014.36,13.0)(2014.36,13.7)(2014.37,14.9)(2014.38,14.4)(2014.39,13.0)(2014.40,15.4)(2014.41,12.5)(2014.42,14.9)(2014.43,15.9)(2014.44,15.4)(2014.44,13.9)(2014.45,14.2)(2014.46,13.0)(2014.47,13.5)(2014.48,11.7)(2014.49,9.0)(2014.50,10.5)(2014.51,13.0)(2014.51,12.2)(2014.53,11.5)(2014.54,9.0)(2014.54,6.8)(2014.55,13.0)(2014.56,13.9)(2014.57,10.0)(2014.58,8.5)(2014.59,5.3)(2014.60,12.5)(2014.61,13.5)(2014.62,11.0)(2014.62,8.0)(2014.63,7.5)(2014.64,11.5)(2014.65,10.5)(2014.66,9.0)
(2014.02,9.6)(2014.04,7.8)(2014.05,10.4)(2014.07,12.2)(2014.10,11.2)(2014.12,9.4)(2014.13,7.2)(2014.16,12.6)(2014.17,11.6)(2014.19,9.6)(2014.21,13.6)(2014.22,11.8)(2014.24,12.6)(2014.25,13.8)(2014.27,10.2)(2014.28,9.2)(2014.29,14.0)(2014.30,10.6)(2014.31,11.0)(2014.32,14.6)(2014.34,11.8)(2014.35,12.4)(2014.37,12.0)(2014.38,11.0)(2014.39,14.4)(2014.40,12.0)(2014.41,14.6)(2014.42,11.6)(2014.43,13.2)(2014.45,15.0)(2014.46,15.6)(2014.47,14.6)(2014.48,14.0)(2014.50,13.6)(2014.52,14.4)(2014.53,13.2)(2014.55,12.0)(2014.56,12.4)(2014.58,13.6)(2014.59,12.6)(2014.60,10.0)(2014.61,9.4)(2014.63,12.8)(2014.64,9.6)(2014.65,12.6)
(2014.77,13.0)(2014.77,11.5)(2014.78,10.5)(2014.78,9.0)(2014.78,8.0)(2014.79,14.9)(2014.79,13.5)(2014.81,9.2)(2014.82,11.5)(2014.83,9.2)(2014.84,11.0)(2014.85,13.0)(2014.86,14.2)(2014.87,14.4)(2014.87,8.5)(2014.88,15.4)(2014.90,14.9)(2014.90,15.4)(2014.91,13.0)(2014.92,14.9)(2014.93,15.9)(2014.94,9.7)(2014.95,15.2)(2014.96,15.7)(2014.97,14.9)(2014.97,16.2)(2014.98,14.4)(2014.99,15.4)(2015.00,10.0)(2015.01,8.0)(2015.02,6.5)(2015.02,5.5)(2015.03,4.8)(2015.03,4.0)(2015.02,10.5)(2015.01,12.0)(2015.03,15.4)(2015.04,15.9)(2015.05,14.9)(2015.05,13.9)(2015.06,15.4)(2015.08,14.4)(2015.08,13.0)(2015.09,11.5)(2015.10,10.0)(2015.10,8.5)(2015.10,15.4)(2015.12,14.9)(2015.14,15.7)(2015.15,15.2)(2015.17,14.4)(2015.19,15.4)(2015.21,14.9)(2015.23,15.7)(2015.24,14.9)(2015.26,15.4)(2015.28,10.5)(2015.30,14.9)(2015.31,9.5)(2015.32,15.4)(2015.33,14.4)(2015.34,13.5)(2015.35,15.7)(2015.37,16.2)(2015.39,16.9)(2015.41,16.4)(2015.42,17.2)(2015.44,17.4)(2015.46,16.4)(2015.47,17.7)(2015.48,13.7)(2015.50,15.9)(2015.51,17.7)(2015.52,16.9)(2015.53,15.4)(2015.55,14.4)(2015.56,15.7)
(2014.80,12.0)(2014.84,14.0)(2014.89,15.0)(2014.92,15.6)(2014.95,14.2)(2014.99,15.8)(2015.04,14.6)(2015.07,15.8)(2015.09,14.8)(2015.11,15.6)(2015.13,14.6)(2015.16,15.8)(2015.18,14.9)(2015.20,15.6)(2015.22,15.0)(2015.25,15.8)(2015.27,15.2)(2015.29,15.6)(2015.31,15.8)(2015.36,15.6)(2015.38,15.8)(2015.40,16.6)(2015.43,16.8)(2015.45,17.0)(2015.49,16.6)(2015.54,16.2)(2014.86,11.2)(2014.93,12.4)(2015.06,12.2)(2015.11,11.4)(2015.09,9.2)(2015.12,8.4)(2015.08,8.8)(2015.02,8.6)(2015.03,6.0)
(2015.84,6.0)(2015.85,5.5)(2015.85,4.8)(2015.86,4.0)(2015.86,6.8)(2015.87,8.0)(2015.87,7.5)(2015.88,9.0)(2015.89,8.5)(2015.90,8.0)(2015.91,7.0)(2015.92,6.0)(2015.93,5.5)(2015.94,5.0)(2015.93,8.5)(2015.94,9.2)(2015.95,10.5)(2015.95,11.2)(2015.96,12.0)(2015.97,13.0)(2015.95,8.0)(2015.88,6.4)(2015.90,6.6)(2015.92,7.6)(2015.89,5.8)
};
\end{axis}
% ---------------- Panel 3 : Aurade ----------------
\begin{axis}[panel, at={(46.35pt,-371.2pt)}, anchor=south west, width=521.1pt, height=111.7pt,
  extra x ticks={2005.39,2006.41,2007.43,2008.45,2009.46,2010.48,2011.50,2012.52,2013.53,2014.55,2015.57},
  extra x tick labels={2005,2006,2007,2008,2009,2010,2011,2012,2013,2014,2015},
  extra x tick style={major tick length=0pt, tick style={draw=none},
    xticklabel style={font=\bfseries\fontsize{10}{12}\selectfont, yshift=-4.2pt}}]
\addplot[dots] coordinates {
(2005.00,9.9)(2005.02,10.0)(2005.04,10.1)(2005.07,10.0)(2005.10,10.5)(2005.11,10.7)(2005.12,10.3)(2005.14,10.9)(2005.17,11.2)(2005.19,11.1)(2005.23,10.1)(2005.27,9.3)(2005.27,8.9)(2005.28,9.5)(2005.31,9.6)(2005.33,9.7)(2005.36,10.4)(2005.37,11.6)(2005.38,12.7)(2005.40,10.0)(2005.42,10.0)(2005.43,11.7)(2005.45,11.3)(2005.47,12.4)(2005.50,12.8)(2005.52,12.9)(2005.54,14.6)
(2005.60,9.2)(2005.62,7.6)(2005.71,8.7)(2005.73,7.3)(2005.75,6.8)(2005.78,7.4)(2005.81,5.3)(2005.82,4.4)(2005.83,5.4)(2005.86,5.6)(2005.89,5.3)(2005.90,5.8)(2005.92,5.3)(2005.96,5.9)(2006.00,7.0)(2006.01,8.0)(2006.03,7.7)(2006.05,6.8)(2006.07,7.6)(2006.09,9.9)(2006.12,8.8)(2006.14,6.8)(2006.16,7.6)(2006.17,8.4)(2006.18,15.4)(2006.22,14.2)(2006.20,11.3)(2006.22,12.2)(2006.21,10.4)(2006.23,11.1)(2006.26,10.0)(2006.27,10.4)(2006.29,10.5)(2006.31,11.2)(2006.32,9.5)(2006.33,10.9)(2006.34,9.2)(2006.35,10.0)(2006.37,11.6)(2006.38,10.5)(2006.39,11.3)(2006.40,11.9)(2006.41,10.8)(2006.42,11.6)(2006.44,11.9)(2006.45,8.4)(2006.46,10.0)(2006.47,12.3)(2006.48,8.9)(2006.49,10.0)(2006.51,9.5)(2006.53,11.2)(2006.54,8.4)(2006.55,9.1)(2006.58,19.0)(2006.60,3.5)(2006.61,8.1)(2006.63,6.6)(2006.64,5.8)(2006.64,5.2)(2006.65,18.1)(2006.66,8.4)(2006.66,6.2)(2006.67,10.5)(2006.70,9.1)(2006.71,0.5)(2006.71,5.4)(2006.71,4.4)(2006.72,3.8)(2006.71,2.9)(2006.73,4.0)(2006.73,6.2)(2006.75,6.2)(2006.77,10.6)(2006.77,7.4)(2006.79,8.0)(2006.79,6.6)(2006.80,6.2)(2006.82,6.8)(2006.86,8.0)(2006.87,5.8)(2006.89,6.8)(2006.89,5.2)(2006.90,3.7)(2006.91,5.8)(2006.93,5.4)(2006.89,8.0)
(2006.98,9.1)(2006.99,9.7)(2007.01,8.3)(2007.08,8.4)(2007.09,9.5)(2007.11,8.3)(2007.11,7.3)(2007.12,8.9)(2007.14,9.2)(2007.15,8.1)(2007.16,13.0)(2007.16,6.8)(2007.17,9.7)(2007.18,7.6)(2007.18,8.4)(2007.19,9.6)(2007.20,8.7)(2007.21,9.2)(2007.23,8.7)(2007.25,7.6)(2007.27,9.2)(2007.28,8.9)(2007.30,10.0)(2007.31,8.7)(2007.33,16.3)(2007.33,21.6)(2007.38,21.7)(2007.32,9.2)(2007.34,8.4)(2007.35,9.5)(2007.35,8.0)(2007.36,8.9)(2007.37,10.0)(2007.38,10.5)(2007.39,13.5)(2007.40,12.9)(2007.40,12.4)(2007.41,11.2)(2007.42,10.4)(2007.43,9.2)(2007.44,10.3)(2007.44,7.1)(2007.45,9.7)(2007.46,10.4)(2007.48,10.4)(2007.50,11.5)(2007.51,12.0)(2007.52,11.6)(2007.56,12.6)(2007.60,12.2)(2007.63,11.1)(2007.65,10.5)(2007.67,11.6)(2007.68,10.6)(2007.70,12.6)(2007.71,8.0)(2007.73,10.7)(2007.75,9.7)(2007.76,9.3)(2007.80,10.4)(2007.82,10.4)(2007.85,8.7)(2007.87,7.8)(2007.89,6.4)(2007.91,8.3)(2007.92,6.4)(2007.93,5.8)(2007.94,7.0)(2007.95,8.0)(2007.98,7.8)(2007.99,8.0)(2008.01,6.6)(2008.02,7.0)(2008.04,5.4)(2008.04,7.3)(2008.05,16.1)(2008.05,10.3)(2008.06,8.4)(2008.07,8.1)(2008.09,8.4)(2008.12,8.5)(2008.14,9.6)(2008.15,9.1)(2008.19,7.6)(2008.21,8.7)(2008.24,7.0)(2008.24,8.1)(2008.26,8.7)(2008.28,14.2)(2008.28,9.5)(2008.29,7.6)(2008.30,8.4)(2008.31,8.1)(2008.33,8.7)(2008.34,9.7)(2008.37,6.5)(2008.38,4.0)(2008.37,10.0)(2008.39,10.3)(2008.39,8.0)(2008.40,11.1)(2008.40,8.9)(2008.41,12.4)(2008.42,10.5)(2008.43,10.0)(2008.44,2.5)(2008.45,9.6)(2008.46,10.0)(2008.47,9.3)(2008.49,11.5)(2008.50,10.8)(2008.51,13.0)(2008.52,13.6)(2008.53,9.2)(2008.53,12.3)(2008.56,14.6)(2008.59,12.6)(2008.62,12.6)(2008.63,11.7)
(2008.69,10.8)(2008.71,10.3)(2008.72,10.1)(2008.75,10.8)(2008.76,9.5)(2008.78,8.7)(2008.79,6.5)(2008.81,8.0)(2008.81,8.3)(2008.83,8.0)(2008.85,5.6)(2008.87,6.6)(2008.88,7.6)(2008.89,9.7)(2008.88,6.6)(2008.90,7.6)(2008.91,7.3)(2008.92,6.6)(2008.93,7.8)(2008.94,7.0)(2008.95,7.6)(2008.95,7.7)(2008.97,8.1)(2008.99,8.5)(2009.01,8.9)(2009.03,8.1)(2009.04,7.6)(2009.05,6.9)(2009.06,10.0)(2009.07,9.3)(2009.08,10.5)(2009.09,11.4)(2009.10,8.9)(2009.11,9.5)(2009.11,10.0)(2009.13,9.1)(2009.13,9.2)(2009.15,9.2)(2009.18,11.0)(2009.26,11.3)(2009.27,9.5)(2009.28,7.8)(2009.27,6.9)(2009.29,12.2)(2009.31,12.3)(2009.35,11.9)(2009.37,12.1)(2009.40,11.7)(2009.42,12.6)(2009.45,13.0)(2009.48,10.7)(2009.50,10.6)(2009.52,13.4)(2009.54,13.2)(2009.58,13.3)(2009.61,11.2)(2009.64,10.4)(2009.66,10.5)(2009.69,8.7)(2009.72,9.2)(2009.74,8.0)(2009.77,5.8)(2009.78,5.6)(2009.79,8.0)(2009.80,11.7)(2009.82,8.7)(2009.84,5.9)(2009.85,7.8)(2009.87,7.6)(2009.89,7.4)(2009.90,7.8)(2009.91,7.3)(2009.91,5.2)(2009.92,6.8)(2009.93,6.6)(2009.95,8.3)(2009.97,8.4)(2009.99,6.6)(2010.01,8.4)(2010.02,7.8)(2010.04,6.6)(2010.04,9.2)(2010.06,9.5)(2010.07,10.4)(2010.09,10.0)(2010.12,11.1)(2010.15,11.0)(2010.16,10.8)(2010.19,10.9)(2010.21,11.9)(2010.23,11.2)(2010.25,9.7)(2010.27,9.9)(2010.29,10.0)(2010.31,10.3)(2010.32,10.5)(2010.32,7.6)(2010.33,13.4)(2010.33,12.2)(2010.34,9.5)(2010.35,8.9)(2010.36,11.6)(2010.37,10.5)(2010.37,8.3)(2010.38,8.4)(2010.38,12.7)(2010.39,11.6)(2010.41,10.5)(2010.41,12.2)(2010.43,12.2)(2010.44,10.0)(2010.45,9.3)(2010.47,8.1)(2010.47,10.0)(2010.48,12.7)(2010.50,13.2)(2010.52,13.4)(2010.54,11.9)
(2010.49,13.2)(2010.51,13.4)(2010.53,13.5)(2010.54,13.6)(2010.55,11.9)(2010.57,11.7)(2010.59,13.2)(2010.61,12.0)(2010.62,12.8)(2010.63,10.0)(2010.65,12.8)(2010.67,10.3)(2010.68,10.0)(2010.69,9.7)(2010.72,8.9)(2010.75,6.5)(2010.77,5.6)(2010.79,9.9)(2010.80,8.9)(2010.83,7.7)(2010.84,7.3)(2010.87,6.4)(2010.87,5.8)(2010.89,4.8)(2010.90,4.4)(2010.92,7.4)(2010.94,8.9)(2010.96,9.1)(2010.97,8.1)(2010.97,8.9)(2010.99,8.9)(2011.01,8.8)(2011.04,5.8)(2011.05,7.0)(2011.08,6.9)(2011.09,7.0)(2011.12,6.8)(2011.14,6.0)(2011.16,8.0)(2011.18,8.0)(2011.21,6.6)(2011.23,6.6)(2011.25,8.1)(2011.28,9.2)(2011.31,8.9)(2011.33,8.9)(2011.35,8.9)(2011.37,7.7)(2011.39,8.1)(2011.41,8.5)(2011.43,5.8)(2011.46,6.5)(2011.47,4.9)(2011.50,2.7)(2011.51,0.5)(2011.53,6.5)(2011.55,5.7)(2011.57,6.9)(2011.59,5.6)(2011.60,5.6)(2011.61,1.3)
(2011.88,13.0)(2011.91,0.9)(2011.93,1.4)(2011.94,2.3)(2011.96,2.3)(2011.97,3.4)(2011.99,3.5)(2012.02,4.0)(2012.03,4.8)(2012.05,5.0)(2012.07,5.2)(2012.12,5.7)(2012.14,5.0)(2012.16,5.7)(2012.18,4.8)(2012.20,4.1)(2012.21,4.0)(2012.23,4.0)(2012.25,3.8)(2012.27,4.0)(2012.29,4.2)(2012.30,4.0)(2012.32,3.7)(2012.33,4.4)(2012.34,3.3)(2012.36,4.2)(2012.37,11.9)(2012.37,6.8)(2012.39,7.7)(2012.39,6.6)(2012.40,6.4)(2012.41,6.8)(2012.43,8.3)(2012.46,11.5)(2012.49,10.8)(2012.50,10.8)
(2012.82,1.3)(2012.84,0.3)(2012.85,0.2)(2012.87,0.2)(2012.88,0.7)(2012.90,0.9)(2012.91,1.7)(2012.93,2.2)(2012.94,2.9)(2012.95,2.5)(2013.00,4.6)(2013.01,3.5)(2013.02,4.0)(2013.02,5.2)(2013.03,6.2)(2013.03,7.0)(2013.04,8.1)(2013.04,8.4)(2013.05,6.2)(2013.06,7.3)(2013.06,10.0)(2013.06,8.9)(2013.07,6.8)(2013.08,6.1)(2013.09,9.7)(2013.10,8.3)(2013.11,7.0)(2013.12,10.0)(2013.13,10.8)(2013.14,3.8)(2013.15,10.0)(2013.16,10.3)(2013.18,10.0)(2013.20,8.9)(2013.21,8.4)(2013.22,7.6)(2013.24,7.7)(2013.25,7.7)(2013.27,15.0)(2013.29,14.4)(2013.30,7.4)(2013.32,6.5)(2013.33,6.8)(2013.34,6.6)(2013.39,10.7)(2013.40,5.4)(2013.41,8.3)(2013.43,7.6)(2013.45,8.4)(2013.49,8.4)(2013.51,8.3)(2013.52,8.4)
(2013.70,5.8)(2013.76,5.0)(2013.77,5.8)(2013.79,5.7)(2013.81,5.6)(2013.85,6.1)(2013.85,6.6)(2013.86,6.2)(2013.86,8.3)(2013.88,9.9)(2013.90,8.7)(2013.92,8.8)(2013.94,8.7)(2013.95,7.0)(2013.95,0.0)(2013.96,8.7)(2013.98,9.6)(2013.99,9.2)(2014.00,10.0)(2014.01,8.9)(2014.02,9.5)(2014.03,8.7)(2014.03,7.7)(2014.04,6.5)(2014.05,10.0)(2014.06,9.6)(2014.07,10.0)(2014.08,10.4)(2014.09,10.0)(2014.10,9.7)(2014.10,10.5)(2014.12,10.3)(2014.13,10.5)(2014.13,10.9)(2014.14,10.0)(2014.15,8.7)(2014.15,10.5)(2014.16,10.8)(2014.17,11.1)(2014.19,10.5)(2014.21,10.7)(2014.22,11.2)(2014.23,10.0)(2014.24,10.8)(2014.26,10.5)(2014.27,10.0)(2014.35,10.5)(2014.37,10.5)(2014.41,8.9)(2014.44,10.7)(2014.46,7.8)(2014.46,7.2)(2014.49,7.3)(2014.46,5.0)(2014.46,3.7)(2014.52,9.5)(2014.54,9.9)(2014.64,10.0)(2014.65,10.1)(2014.67,10.5)(2014.71,9.5)(2014.73,9.1)(2014.75,8.9)(2014.77,8.7)(2014.86,7.3)(2014.92,7.3)(2014.92,6.6)(2014.93,7.4)(2014.94,7.2)(2014.97,5.2)(2014.97,4.9)(2015.01,7.8)(2015.04,8.1)(2015.05,8.4)(2015.07,8.9)(2015.07,8.4)(2015.08,8.7)(2015.10,9.2)(2015.11,8.1)(2015.12,7.6)(2015.12,7.0)(2015.13,6.5)(2015.14,6.1)(2015.15,5.4)(2015.13,9.6)(2015.14,8.9)(2015.16,8.5)(2015.17,8.9)(2015.20,8.5)(2015.23,9.2)(2015.25,9.5)(2015.27,8.9)(2015.29,8.3)(2015.30,7.7)(2015.32,8.5)(2015.35,8.4)(2015.41,4.6)(2015.43,6.8)(2015.43,5.8)(2015.49,10.0)(2015.53,9.9)(2015.63,9.1)(2015.69,8.9)(2015.74,8.8)(2015.80,6.8)(2015.82,7.7)(2015.86,7.7)(2015.89,7.6)(2015.91,8.0)(2015.93,7.6)(2015.94,7.0)
};
\end{axis}
% ---------------- Texts ----------------
\node[anchor=base, inner sep=0pt, font=\calibri\bfseries\fontsize{14}{16}\selectfont] at (288pt,-17.1pt) {Avenelles};
\node[anchor=base, inner sep=0pt, font=\calibri\bfseries\fontsize{14}{16}\selectfont] at (293.7pt,-140.1pt) {Kervidy-Naizin};
\node[anchor=base, inner sep=0pt, font=\calibri\bfseries\fontsize{14}{16}\selectfont] at (284.7pt,-269.7pt) {Auradé};
\node[anchor=base west, inner sep=0pt, text=moyblue, font=\bfseries\fontsize{14.3}{16}\selectfont] at (415.5pt,-39pt) {Moy= 12 mgN/L (0-37)};
\node[anchor=base west, inner sep=0pt, text=moyblue, font=\bfseries\fontsize{14.3}{16}\selectfont] at (415.5pt,-159.6pt) {Moy= 15 mgN/L (0-33)};
\node[anchor=base west, inner sep=0pt, text=moyblue, font=\bfseries\fontsize{14.3}{16}\selectfont] at (415.5pt,-293.1pt) {Moy=\ \ 8 mgN/L (0.2-22)};
\node[rotate=90, inner sep=0pt, font=\bfseries\fontsize{10}{12}\selectfont] at (9pt,-60.6pt) {NO\textsubscript{3},\ \ mgN l\textsuperscript{-1}};
\node[rotate=90, inner sep=0pt, font=\bfseries\fontsize{10}{12}\selectfont] at (9pt,-184.5pt) {NO\textsubscript{3},\ \ mgN l\textsuperscript{-1}};
\node[rotate=90, inner sep=0pt, font=\bfseries\fontsize{10}{12}\selectfont] at (9pt,-304.8pt) {NO\textsubscript{3},\ \ mgN l\textsuperscript{-1}};
\end{tikzpicture}
\end{document}
